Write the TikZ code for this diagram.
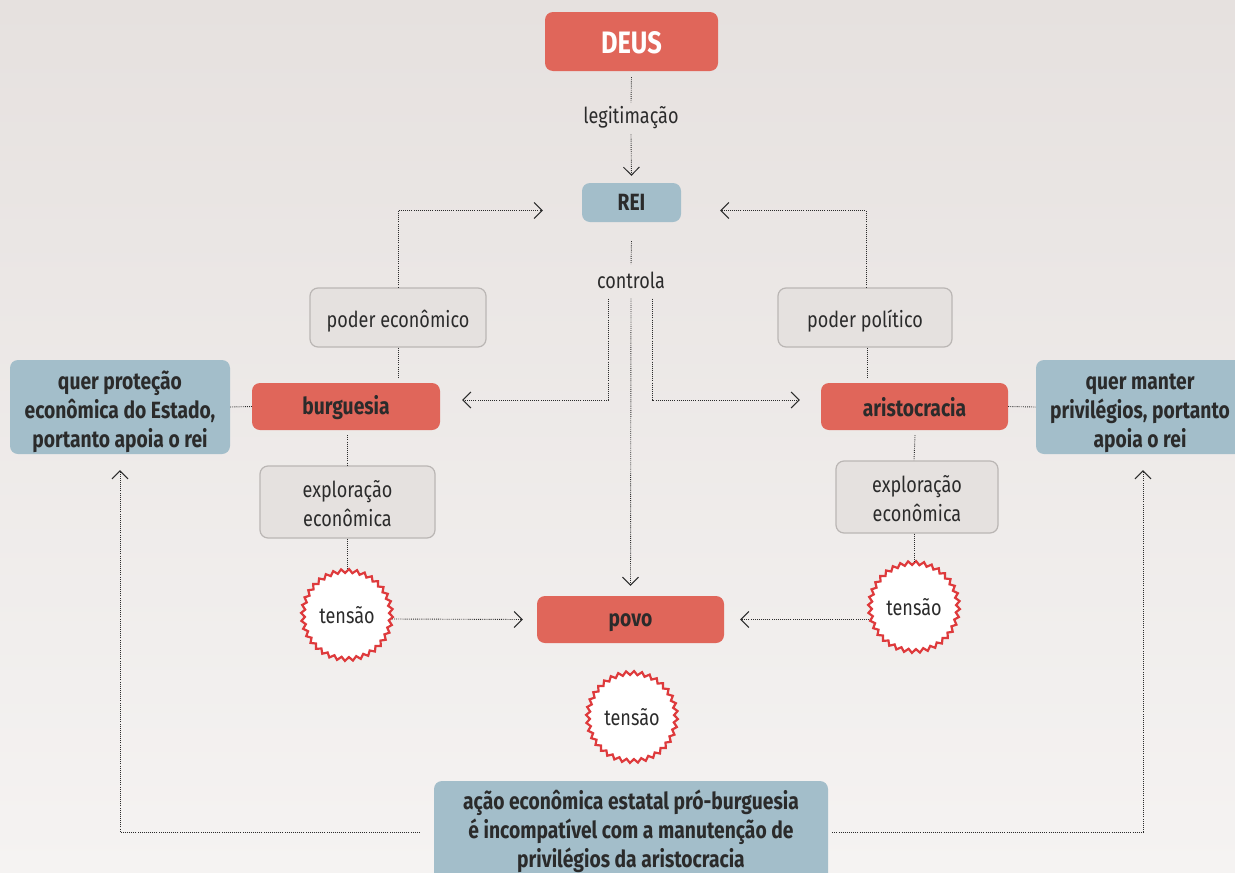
\documentclass[tikz,border=0pt]{standalone}
\usepackage{fontspec}
\setmainfont{Fira Sans}[FakeStretch=0.82]
\usetikzlibrary{arrows.meta,decorations.pathmorphing,calc}
\definecolor{zred}{HTML}{E0665A}
\definecolor{zblue}{HTML}{A3BECA}
\definecolor{zgray}{HTML}{E5E1DF}
\definecolor{zgrayb}{HTML}{BAB6B4}
\definecolor{ztext}{HTML}{2B2B2B}
\definecolor{zzig}{HTML}{DE3A3C}
\definecolor{bgtop}{HTML}{E6E1DF}
\definecolor{bgbot}{HTML}{F5F3F2}
\newcommand\zstrut[1]{\rule{0pt}{#1}}
\begin{document}
\begin{tikzpicture}[x=1pt,y=-1pt,
  box/.style={rounded corners=8pt, align=center, inner sep=0pt, text=ztext},
  redb/.style={box, fill=zred, font=\fontsize{23.5}{28}\selectfont\bfseries},
  blueb/.style={box, fill=zblue, font=\fontsize{23.5}{29}\selectfont\bfseries},
  grayb/.style={box, fill=zgray, draw=zgrayb, line width=1.2pt, font=\fontsize{22}{28.5}\selectfont},
  lbl/.style={font=\fontsize{22}{26}\selectfont, text=ztext, inner sep=0pt},
  tens/.style={circle, fill=white, draw=zzig, line width=2.2pt, minimum size=88pt, inner sep=0pt,
    decorate, decoration={zigzag, segment length=7.68pt, amplitude=1.9pt},
    font=\fontsize{22}{26}\selectfont, text=ztext},
  conn/.style={draw=ztext, line width=0.9pt, dash pattern=on 0.9pt off 1.2pt},
  arr/.style={conn, -{Straight Barb[length=8pt,width=16pt,line width=1pt]}}
]
\useasboundingbox (0,0) rectangle (1235,873);
\begin{scope}
\clip (0,0) rectangle (1235,873);
\shade[top color=bgtop, bottom color=bgbot] (0,0) rectangle (1235,873);

% nodes
\node[redb, text=white, font=\fontsize{31}{35}\selectfont\bfseries, minimum width=173pt, minimum height=59pt] (deus) at (631.5,41.5) {\zstrut{24pt}DEUS};
\node[lbl] (legit) at (631,118) {legitimação};
\node[blueb, minimum width=99pt, minimum height=39pt] (rei) at (631.5,202.5) {REI};
\node[lbl] (ctrl) at (631,280) {controla};
\node[grayb, minimum width=176pt, minimum height=59pt] (pe) at (398,317.5) {\zstrut{24.5pt}poder econômico};
\node[grayb, minimum width=174pt, minimum height=59pt] (pp) at (865,317.5) {\zstrut{24.5pt}poder político};
\node[redb, minimum width=188pt, minimum height=47pt] (burg) at (346,406.5) {\zstrut{21pt}burguesia};
\node[redb, minimum width=187pt, minimum height=47pt] (aris) at (914.5,406.5) {\zstrut{21pt}aristocracia};
\node[blueb, minimum width=220pt, minimum height=94pt] (qp) at (120,407) {\zstrut{28pt}quer proteção\\econômica do Estado,\\portanto apoia o rei};
\node[blueb, minimum width=208pt, minimum height=94pt] (qm) at (1140,407) {\zstrut{28pt}quer manter\\privilégios, portanto\\apoia o rei};
\node[grayb, minimum width=175pt, minimum height=72pt] (ex1) at (347.5,502) {\zstrut{20.5pt}exploração\\econômica};
\node[grayb, minimum width=162pt, minimum height=72pt] (ex2) at (917,497) {\zstrut{20.5pt}exploração\\econômica};
\node[redb, minimum width=187pt, minimum height=47pt] (povo) at (630.5,619.5) {\zstrut{20pt}povo};
\node[tens] (t1) at (347,615) {tensão};
\node[tens] (t2) at (914,607) {tensão};
\node[tens] (t3) at (632,717) {tensão};
\node[blueb, minimum width=394pt, minimum height=100pt] (bot) at (631,831) {ação econômica estatal pró-burguesia\\é incompatível com a manutenção de\\privilégios da aristocracia};

% connectors
\draw[conn] ($(deus.south)+(0,6)$) -- ($(legit.north)+(0,-4)$);
\draw[arr] ($(legit.south)+(0,5)$) -- ($(rei.north)+(0,-7)$);
\draw[conn] ($(rei.south)+(0,19)$) -- ($(ctrl.north)+(0,-7)$);
\coordinate (cl) at ($(ctrl.south)+(-23,10)$);
\coordinate (cm) at ($(ctrl.south)+(0,10)$);
\coordinate (cr) at ($(ctrl.south)+(21,10)$);
\draw[arr] (cl) |- ($(burg.east)+(22,-6.5)$);
\draw[arr] (cr) |- ($(aris.west)+(-21,-6.5)$);
\draw[arr] (cm) -- ($(povo.north)+(0,-10)$);
\draw[arr] (pe.north) |- ($(rei.west)+(-39,8)$);
\draw[arr] ($(pp.north)+(1,0)$) |- ($(rei.east)+(39,8)$);
\draw[conn] (pe.south) -- ($(burg.north)+(52,-5)$);
\draw[conn] ($(pp.south)+(2,0)$) -- ($(aris.north)+(-47.5,-5)$);
\draw[conn] ($(burg.south)+(1,5)$) -- (ex1.north -| t1.center);
\draw[conn] (ex1.south -| t1.center) -- (t1.north);
\draw[conn] ($(aris.south)+(0.5,5)$) -- (ex2.north -| t2.center);
\draw[conn] (ex2.south -| t2.center) -- (t2.north);
\draw[conn] (qp.east) -- (burg.west);
\draw[conn] (aris.east) -- (qm.west);
\draw[arr] ($(t1.center)+(45,4)$) -- ($(povo.west)+(-14,0)$);
\draw[arr] ($(t2.center)+(-45,12.5)$) -- ($(povo.east)+(16,0)$);
\draw[arr] ($(bot.west)+(-14,1)$) -| ($(qp.south)+(0,16)$);
\draw[arr] ($(bot.east)+(4,1)$) -| ($(qm.south)+(3,16)$);
\end{scope}
\end{tikzpicture}
\end{document}
